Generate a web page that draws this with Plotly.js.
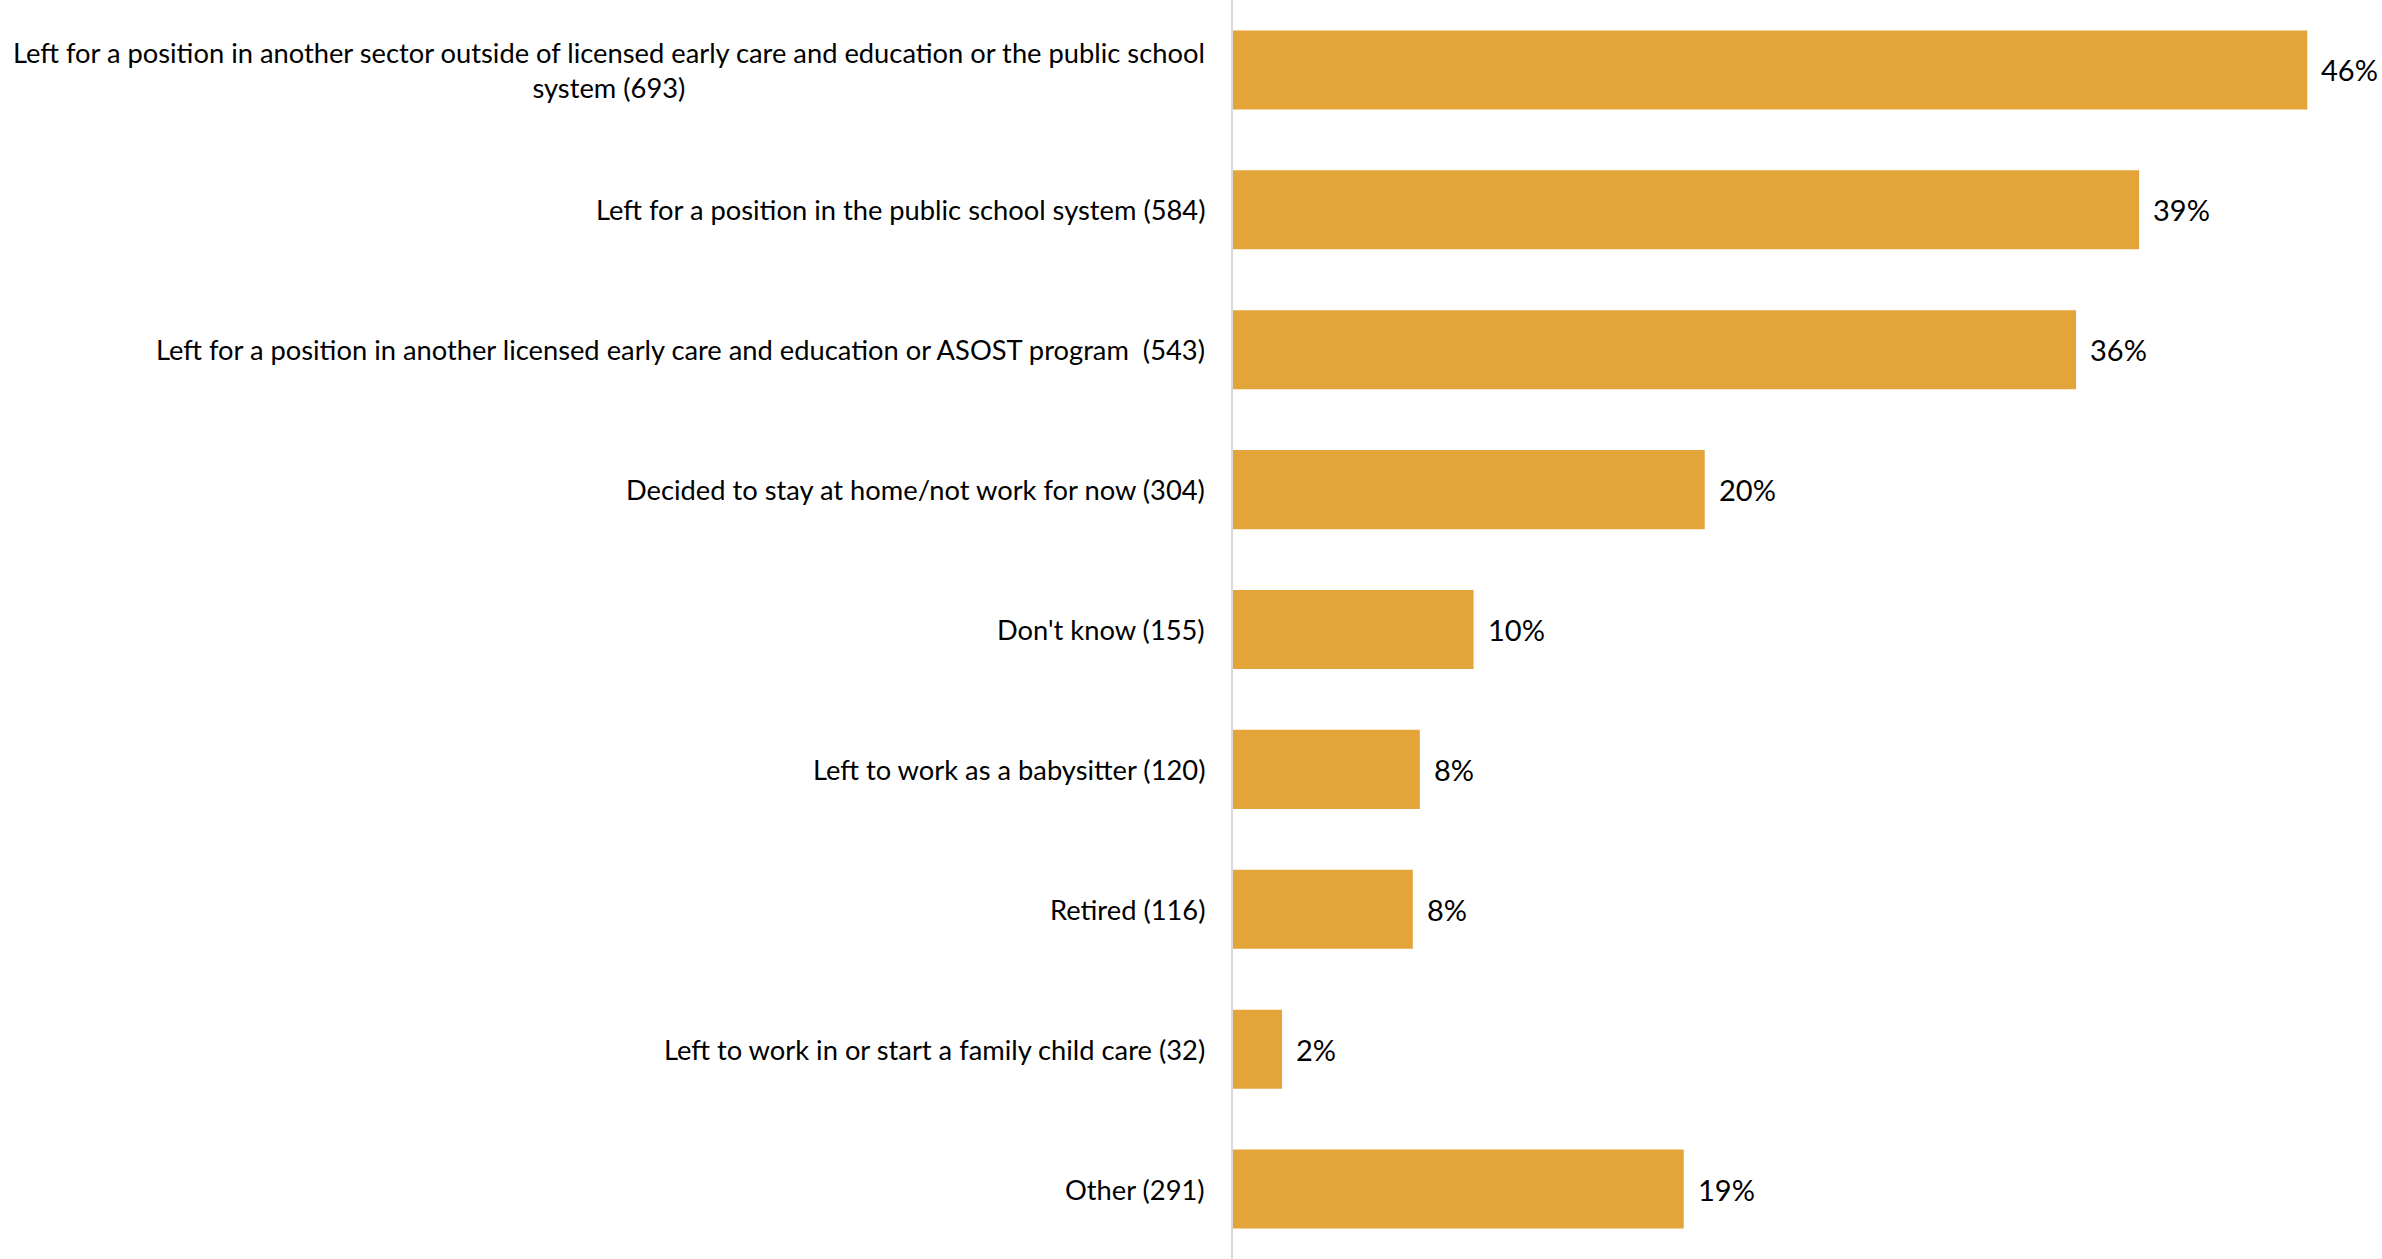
<!DOCTYPE html>
<html>
<head>
<meta charset="utf-8">
<script src="https://cdn.plot.ly/plotly-3.0.1.min.js"></script>
<style>html,body{margin:0;padding:0;background:#fff;}#chart{width:2382px;height:1259px;}</style>
</head>
<body>
<div id="chart"></div>
<script>
const categories = [
  "Left for a position in another sector outside of licensed early care and education or the public school<br>system (693)",
  "Left for a position in the public school system (584)",
  "Left for a position in another licensed early care and education or ASOST program  (543)",
  "Decided to stay at home/not work for now (304)",
  "Don't know (155)",
  "Left to work as a babysitter (120)",
  "Retired (116)",
  "Left to work in or start a family child care (32)",
  "Other (291)"
];
const values = [46.0, 38.8, 36.1, 20.2, 10.3, 8.0, 7.7, 2.1, 19.3];
const valueLabels = ["46%", "39%", "36%", "20%", "10%", "8%", "8%", "2%", "19%"];

const fontFam = "Lato, 'Open Sans', sans-serif";
const ids = categories.map((c, i) => i);

const trace = {
  type: 'bar',
  orientation: 'h',
  x: values,
  y: ids,
  marker: {color: '#E3A539'},
  width: 0.565,
  hoverinfo: 'none'
};

const annotations = [];
categories.forEach((c, i) => {
  annotations.push({
    xref: 'paper', yref: 'y', x: 0, y: ids[i],
    text: c, showarrow: false, xanchor: 'right', yanchor: 'middle',
    align: 'center', xshift: -26,
    font: {family: fontFam, size: 27.3, color: '#000'}
  });
  annotations.push({
    xref: 'x', yref: 'y', x: values[i], y: ids[i],
    text: valueLabels[i], showarrow: false, xanchor: 'left', yanchor: 'middle',
    xshift: 12,
    font: {family: fontFam, size: 29, color: '#000'}
  });
});

const layout = {
  width: 2382, height: 1259,
  margin: {l: 1233, r: 0, t: 0, b: 0},
  paper_bgcolor: '#fff', plot_bgcolor: '#fff',
  showlegend: false,
  xaxis: {range: [0, 49.2], showgrid: false, zeroline: false, showticklabels: false, showline: false, fixedrange: true},
  yaxis: {range: [8.5, -0.5], showgrid: false, zeroline: false, showticklabels: false,
          showline: true, linecolor: '#D9D9D9', linewidth: 2, ticks: '', fixedrange: true},
  annotations: annotations
};

Plotly.newPlot('chart', [trace], layout, {displayModeBar: false, staticPlot: true});
</script>
</body>
</html>
